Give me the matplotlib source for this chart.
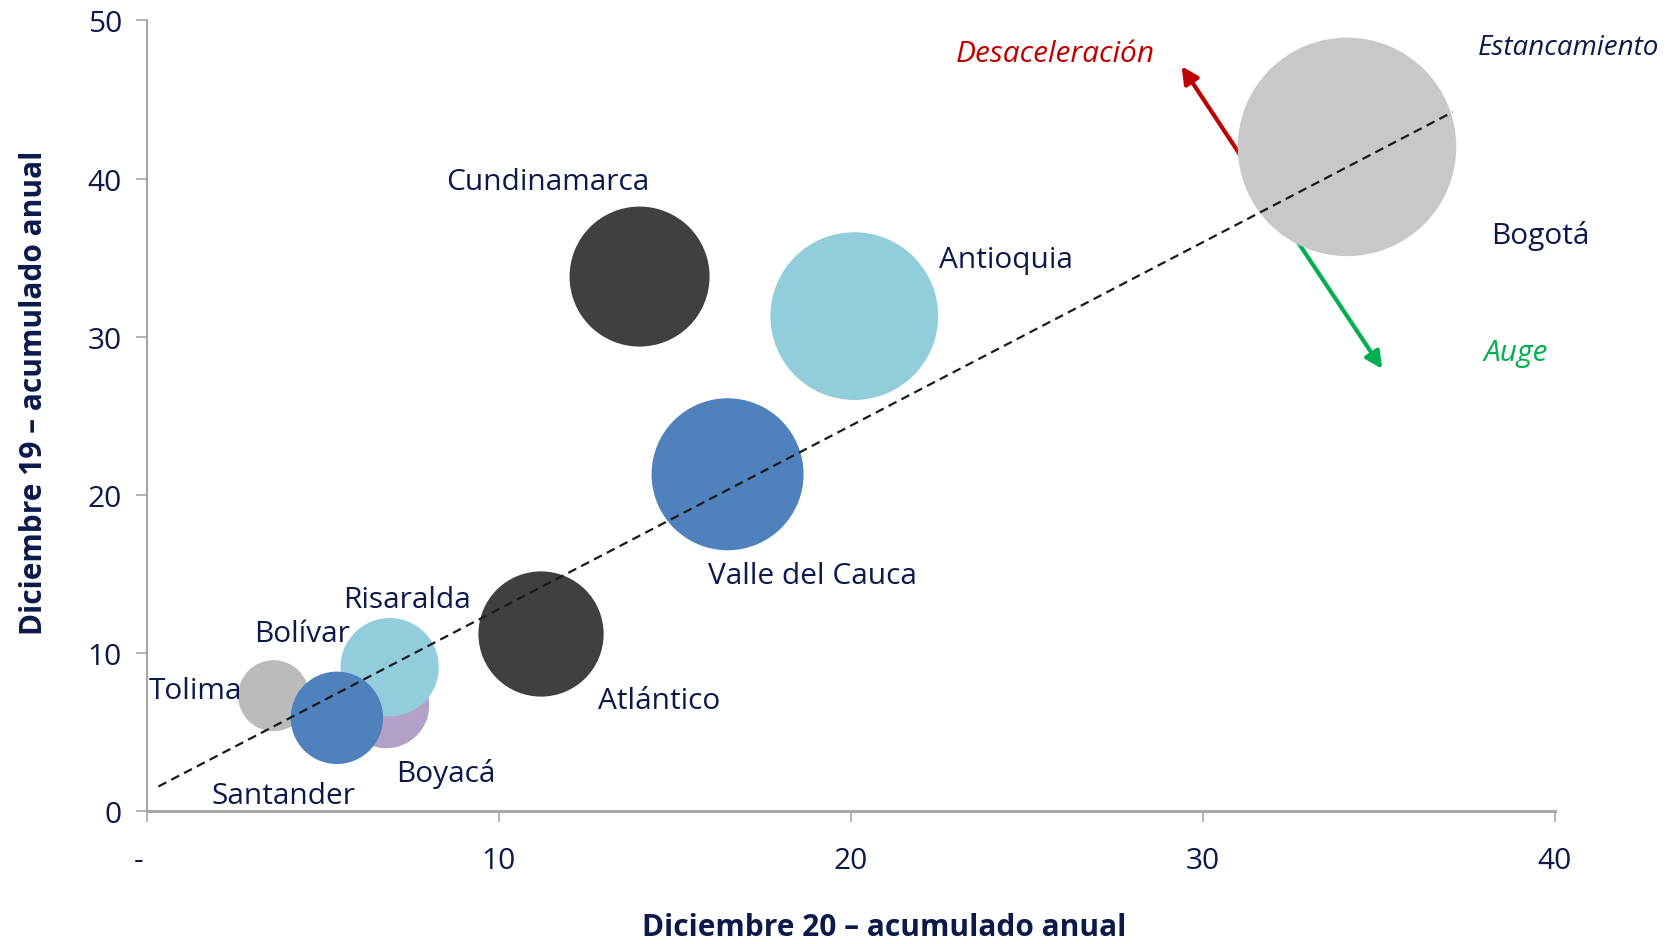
import matplotlib
matplotlib.use("Agg")
import matplotlib.pyplot as plt

# ---------------- data ----------------
departamentos = ["Bogotá", "Antioquia", "Cundinamarca", "Valle del Cauca", "Atlántico",
                 "Boyacá", "Risaralda", "Tolima", "Santander"]
dic20 = [34.1, 20.1, 14.0, 16.5, 11.2, 6.8, 6.9, 3.6, 5.4]      # x: Diciembre 20
dic19 = [42.0, 31.3, 33.8, 21.3, 11.2, 6.7, 9.1, 7.3, 5.9]      # y: Diciembre 19
tamano = [34.1, 20.1, 14.0, 16.5, 11.2, 5.3, 6.9, 3.6, 6.1]     # bubble size
colores = ["#C8C8C8", "#92CDDC", "#404040", "#4F81BD", "#404040",
           "#B3A2C7", "#92CDDC", "#BBBBBB", "#4F81BD"]

etiquetas = ["Bogotá", "Antioquia", "Cundinamarca", "Valle del Cauca", "Atlántico",
             "Risaralda", "Bolívar", "Tolima", "Boyacá", "Santander"]
etq_x = [39.6, 24.4, 11.4, 18.9, 14.55, 7.4, 4.4, 1.37, 8.5, 3.87]
etq_y = [36.45, 34.9, 39.8, 14.9, 7.0, 13.4, 11.25, 7.6, 2.44, 1.0]

tendencia_x = [0.33, 37.1]
tendencia_y = [1.56, 44.2]

x_ticks = [0, 10, 20, 30, 40]
x_ticklabels = ["-  ", "10", "20", "30", "40"]
y_ticks = [0, 10, 20, 30, 40, 50]

# ---------------- style ----------------
navy = "#0B1A4A"
font = "Open Sans"

fig = plt.figure(figsize=(16.8, 9.45), dpi=100)
ax = fig.add_axes([0.0874, 0.1406, 0.838, 0.8368])
ax.set_xlim(0, 40)
ax.set_ylim(0, 50)

# arrows (behind bubbles)
mid = (32.25, 37.5)
ax.annotate("", xy=(29.4, 47.1), xytext=mid,
            arrowprops=dict(arrowstyle="-|>,head_length=1.0,head_width=0.5",
                            color="#C00000", lw=3, shrinkA=0, shrinkB=0), zorder=1)
ax.annotate("", xy=(35.1, 27.96), xytext=mid,
            arrowprops=dict(arrowstyle="-|>,head_length=1.0,head_width=0.5",
                            color="#00B050", lw=3, shrinkA=0, shrinkB=0), zorder=1)

k = 726.0
for i in range(len(departamentos)):
    ax.scatter([dic20[i]], [dic19[i]], s=[tamano[i] * k], color=colores[i],
               edgecolors="none", zorder=2 + i * 0.01)

ax.plot(tendencia_x, tendencia_y, linestyle=(0, (4, 2.5)), color="#1a1a1a", lw=1.6, zorder=5)

for t, x, y in zip(etiquetas, etq_x, etq_y):
    ax.text(x, y, t, ha="center", va="center", fontsize=21.5, color=navy,
            family=font, zorder=6, clip_on=False)

ax.text(25.8, 47.9, "Desaceleración", ha="center", va="center", fontsize=21.5,
        color="#C00000", style="italic", family=font, clip_on=False)
ax.text(40.4, 48.3, "Estancamiento", ha="center", va="center", fontsize=20,
        color=navy, style="italic", family=font, clip_on=False)
ax.text(38.9, 29.0, "Auge", ha="center", va="center", fontsize=21.5,
        color="#00B050", style="italic", family=font, clip_on=False)

# axes styling
for s in ["top", "right"]:
    ax.spines[s].set_visible(False)
ax.spines["left"].set_color("#A6A6A6")
ax.spines["bottom"].set_color("#A6A6A6")
ax.spines["left"].set_linewidth(1.5)
ax.spines["bottom"].set_linewidth(2.2)

ax.set_xticks(x_ticks)
ax.set_xticklabels(x_ticklabels, family=font, fontsize=21.5, color=navy)
ax.set_yticks(y_ticks)
ax.set_yticklabels([str(v) for v in y_ticks], family=font, fontsize=21.5, color=navy)
ax.tick_params(axis="x", direction="out", length=8, width=1.2, color="#A6A6A6", pad=17)
ax.tick_params(axis="y", direction="out", length=8, width=1.2, color="#A6A6A6", pad=10)

ax.set_xlabel("Diciembre 20 – acumulado anual", family=font, fontweight="bold",
              fontsize=21.5, color=navy, labelpad=27)
ax.set_ylabel("Diciembre 19 – acumulado anual", family=font, fontweight="bold",
              fontsize=21.5, color=navy, labelpad=28)
ax.xaxis.label.set_x(0.524)
ax.yaxis.label.set_y(0.53)

fig.savefig("out.png", dpi=100)
